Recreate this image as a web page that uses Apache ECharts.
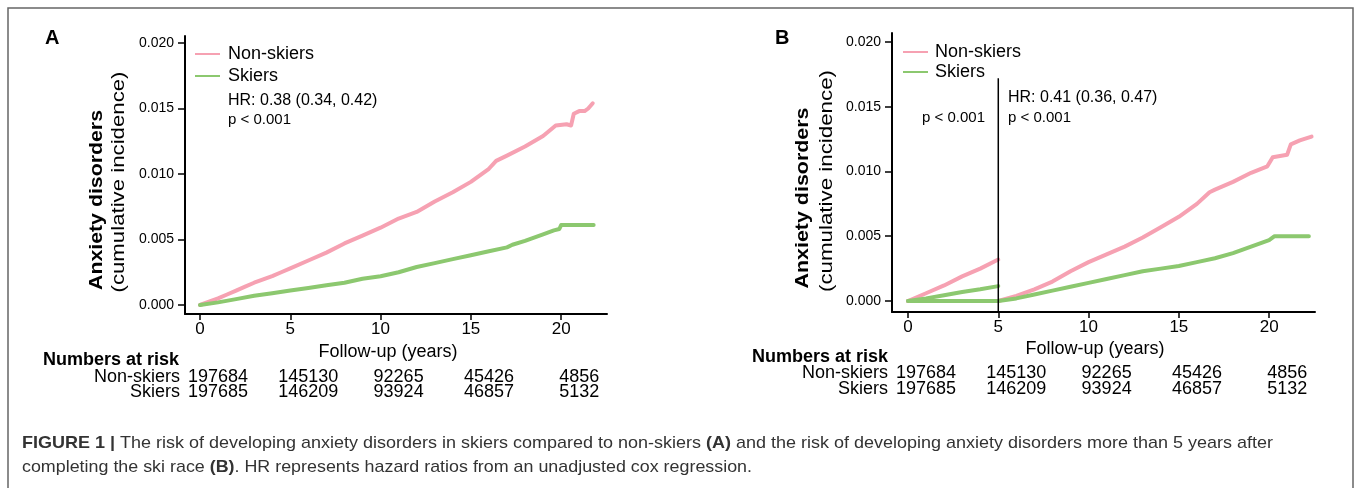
<!DOCTYPE html>
<html>
<head>
<meta charset="utf-8">
<script src="https://cdn.jsdelivr.net/npm/echarts@6/dist/echarts.min.js"></script>
<style>
html,body{margin:0;padding:0;background:#fff;}
#chart{width:1358px;height:488px;}
</style>
</head>
<body>
<div id="chart"></div>
<script>
// ---------------- DATA ----------------
const xTicks = [0, 5, 10, 15, 20];
const yTicks = [0, 0.005, 0.010, 0.015, 0.020];
const riskTimes = [0, 5, 10, 15, 20];
const riskNonSkiers = ['197684', '145130', '92265', '45426', '4856'];
const riskSkiers = ['197685', '146209', '93924', '46857', '5132'];

// Panel A
const tA_non = [0, 0.5, 1, 1.5, 2, 2.5, 3, 3.5, 4, 4.5, 5, 6, 7, 8, 9, 10, 11, 12, 13, 14, 15, 16, 16.4, 17, 18, 19, 19.7, 20.3, 20.55, 20.7, 21.0, 21.3, 21.5, 21.75];
const vA_non = [0, 0.00025, 0.0005, 0.0008, 0.0011, 0.0014, 0.0017, 0.00195, 0.0022, 0.0025, 0.0028, 0.0034, 0.0040, 0.0047, 0.0053, 0.0059, 0.0066, 0.0071, 0.0079, 0.0086, 0.0094, 0.0104, 0.0110, 0.0114, 0.0121, 0.0129, 0.0137, 0.0138, 0.0137, 0.0146, 0.0148, 0.0148, 0.0150, 0.0154];
const tA_ski = [0, 1, 2, 3, 4, 5, 6, 7, 8, 9, 10, 11, 12, 13, 14, 15, 16, 17, 17.3, 18, 19, 19.6, 19.9, 20.0, 21.8];
const vA_ski = [0, 0.0002, 0.00045, 0.0007, 0.0009, 0.0011, 0.0013, 0.0015, 0.0017, 0.0020, 0.0022, 0.0025, 0.0029, 0.0032, 0.0035, 0.0038, 0.0041, 0.0044, 0.0046, 0.0049, 0.0054, 0.0057, 0.0058, 0.0061, 0.0061];

// Panel B (first 5 years)
const tB1_non = [0, 1, 2, 3, 4, 5];
const vB1_non = [0, 0.0006, 0.0012, 0.0019, 0.0025, 0.0032];
const tB1_ski = [0, 1, 2, 3, 4, 5];
const vB1_ski = [0, 0.0002, 0.00045, 0.0007, 0.0009, 0.00115];
// Panel B (after 5 years)
const tB2_non = [0, 5, 6, 7, 8, 9, 10, 11, 12, 13, 14, 15, 16, 16.7, 17, 18, 19, 19.9, 20.2, 21.0, 21.2, 21.7, 22.35];
const vB2_non = [0, 0, 0.0004, 0.0009, 0.0015, 0.0023, 0.0030, 0.0036, 0.0042, 0.0049, 0.0057, 0.0065, 0.0075, 0.0084, 0.0086, 0.0092, 0.0099, 0.0104, 0.0111, 0.0113, 0.0121, 0.0124, 0.0127];
const tB2_ski = [0, 5, 6, 7, 8, 9, 10, 11, 12, 13, 14, 15, 16, 17, 18, 19, 20, 20.3, 22.2];
const vB2_ski = [0, 0, 0.0002, 0.0005, 0.0008, 0.0011, 0.0014, 0.0017, 0.0020, 0.0023, 0.0025, 0.0027, 0.0030, 0.0033, 0.0037, 0.0042, 0.0047, 0.0050, 0.0050];
const landmarkTime = 5;
const landmarkTop = 0.0172;

// ---------------- STYLE ----------------
const PINK = '#F6A1B2';
const GREEN = '#8CC86F';
const FONT = '"Liberation Sans", Arial, Helvetica, sans-serif';
const zip = (t, v) => t.map((x, i) => [x, v[i]]);

function xAxisCfg(grid, min, max) {
  return {
    type: 'value', gridIndex: grid, min: min, max: max,
    axisLine: { show: true, onZero: false, lineStyle: { color: '#000', width: 2 } },
    axisTick: { show: true, customValues: xTicks, length: 6, lineStyle: { color: '#000', width: 1.5 } },
    axisLabel: { customValues: xTicks, fontSize: 17, color: '#000', margin: 7, fontFamily: FONT },
    splitLine: { show: false }
  };
}
function yAxisCfg(grid, min, max) {
  return {
    type: 'value', gridIndex: grid, min: min, max: max,
    axisLine: { show: true, onZero: false, lineStyle: { color: '#000', width: 2 } },
    axisTick: { show: true, customValues: yTicks, length: 7, lineStyle: { color: '#000', width: 1.5 } },
    axisLabel: { customValues: yTicks, fontSize: 14, color: '#000', margin: 11, fontFamily: FONT,
      formatter: v => v.toFixed(3) },
    splitLine: { show: false }
  };
}
function curve(name, data, color, xi, yi, z) {
  return {
    type: 'line', name: name, data: data, xAxisIndex: xi, yAxisIndex: yi,
    symbol: 'none', showSymbol: false, smooth: false, z: z,
    lineStyle: { color: color, width: 4, cap: 'round', join: 'round' },
    silent: true, animation: false
  };
}

const chart = echarts.init(document.getElementById('chart'), null, { renderer: 'canvas' });
const option = {
  animation: false,
  backgroundColor: '#fff',
  grid: [
    { left: 185, top: 36, width: 422, height: 278 },
    { left: 892, top: 33, width: 423, height: 279 }
  ],
  xAxis: [xAxisCfg(0, -0.83, 22.54), xAxisCfg(1, -0.886, 22.54)],
  yAxis: [yAxisCfg(0, -0.000687, 0.020534), yAxisCfg(1, -0.00085, 0.020695)],
  series: [
    curve('Non-skiers', zip(tA_non, vA_non), PINK, 0, 0, 2),
    curve('Skiers', zip(tA_ski, vA_ski), GREEN, 0, 0, 3),
    curve('Non-skiers', zip(tB2_non, vB2_non), PINK, 1, 1, 2),
    curve('Skiers', zip(tB2_ski, vB2_ski), GREEN, 1, 1, 3),
    curve('Non-skiers', zip(tB1_non, vB1_non), PINK, 1, 1, 4),
    curve('Skiers', zip(tB1_ski, vB1_ski), GREEN, 1, 1, 5),
    {
      type: 'line', xAxisIndex: 1, yAxisIndex: 1, symbol: 'none', z: 6, silent: true,
      data: [[landmarkTime, landmarkTop], [landmarkTime, -0.00085]],
      lineStyle: { color: '#000', width: 1.5 }
    }
  ]
};
chart.setOption(option);

// ---------------- ANNOTATIONS ----------------
const measureCtx = document.createElement('canvas').getContext('2d');
function measure(text, size, bold) {
  measureCtx.font = (bold ? 'bold ' : '') + size + 'px ' + FONT;
  return measureCtx.measureText(text).width;
}
function txt(x, y, text, opts) {
  opts = opts || {};
  const size = opts.size || 18;
  const bold = !!opts.bold;
  const align = opts.align || 'left';
  return {
    type: 'text', x: x, y: y, rotation: opts.rotation || 0,
    scaleX: opts.scaleX || 1, silent: true, z: 100,
    style: {
      text: text, fill: opts.color || '#000',
      font: (bold ? 'bold ' : '') + size + 'px ' + FONT,
      textAlign: align, align: align,
      textVerticalAlign: 'middle', verticalAlign: 'middle'
    }
  };
}
function legLine(x1, x2, y, color) {
  return { type: 'line', silent: true, z: 100,
    shape: { x1: x1, y1: y, x2: x2, y2: y }, style: { stroke: color, lineWidth: 2 } };
}
function rotTitle(cx, cy, text, size, bold, targetLen) {
  const w = measure(text, size, bold);
  return txt(cx, cy, text, { size: size, bold: bold, align: 'center', rotation: Math.PI / 2, scaleX: targetLen / w });
}

const g = [];
// frame
g.push({ type: 'rect', silent: true, z: 0, shape: { x: 8, y: 8, width: 1345, height: 500 },
  style: { fill: 'none', stroke: '#666', lineWidth: 1.5 } });
// panel letters
g.push(txt(45, 38, 'A', { size: 20, bold: true }));
g.push(txt(775, 38, 'B', { size: 20, bold: true }));
// legends
g.push(legLine(195, 220, 54, PINK), legLine(195, 220, 76, GREEN));
g.push(txt(228, 54, 'Non-skiers'), txt(228, 76, 'Skiers'));
g.push(legLine(903, 928, 52, PINK), legLine(903, 928, 72, GREEN));
g.push(txt(935, 52, 'Non-skiers'), txt(935, 72, 'Skiers'));
// HR annotations
g.push(txt(228, 101, 'HR: 0.38 (0.34, 0.42)', { size: 16 }));
g.push(txt(228, 120, 'p < 0.001', { size: 15 }));
g.push(txt(922, 118, 'p < 0.001', { size: 15 }));
g.push(txt(1008, 98, 'HR: 0.41 (0.36, 0.47)', { size: 16 }));
g.push(txt(1008, 118, 'p < 0.001', { size: 15 }));
// y titles
g.push(rotTitle(97, 200, 'Anxiety disorders', 19, true, 180));
g.push(rotTitle(119, 182, '(cumulative incidence)', 19, false, 221));
g.push(rotTitle(803, 198, 'Anxiety disorders', 19, true, 181));
g.push(rotTitle(827, 181, '(cumulative incidence)', 19, false, 222));
// x titles
g.push(txt(388, 352, 'Follow-up (years)', { align: 'center' }));
g.push(txt(1095, 349, 'Follow-up (years)', { align: 'center' }));
// numbers at risk
function riskTable(gridIdx, leftX, labelRight, yHead, yNon, ySki) {
  g.push(txt(leftX, yHead, 'Numbers at risk', { bold: true }));
  g.push(txt(labelRight, yNon, 'Non-skiers', { align: 'right' }));
  g.push(txt(labelRight, ySki, 'Skiers', { align: 'right' }));
  riskTimes.forEach((t, i) => {
    const px = chart.convertToPixel({ gridIndex: gridIdx }, [t + 1, 0])[0];
    g.push(txt(px, yNon, riskNonSkiers[i], { align: 'center' }));
    g.push(txt(px, ySki, riskSkiers[i], { align: 'center' }));
  });
}
riskTable(0, 43, 180, 360, 377, 392);
riskTable(1, 752, 888, 357, 373, 389);

// caption
const cap1 = [['FIGURE 1 |', true], [' The risk of developing anxiety disorders in skiers compared to non-skiers ', false], ['(A)', true], [' and the risk of developing anxiety disorders more than 5 years after', false]];
const cap2 = [['completing the ski race ', false], ['(B)', true], ['. HR represents hazard ratios from an unadjusted cox regression.', false]];
function captionLine(segs, y, targetW) {
  const size = 17;
  let w = 0;
  segs.forEach(s => { w += measure(s[0], size, s[1]); });
  const text = segs.map(s => '{' + (s[1] ? 'b' : 'n') + '|' + s[0] + '}').join('');
  return {
    type: 'text', x: 22, y: y, scaleX: targetW / w, silent: true, z: 100,
    style: {
      text: text, fill: '#333', textVerticalAlign: 'middle', verticalAlign: 'middle',
      rich: {
        b: { fontWeight: 'bold', fontSize: size, fontFamily: FONT, fill: '#333', color: '#333' },
        n: { fontWeight: 'normal', fontSize: size, fontFamily: FONT, fill: '#333', color: '#333' }
      }
    }
  };
}
g.push(captionLine(cap1, 443, 1251));
g.push(captionLine(cap2, 467, 730));

chart.setOption({ graphic: g });
</script>
</body>
</html>
